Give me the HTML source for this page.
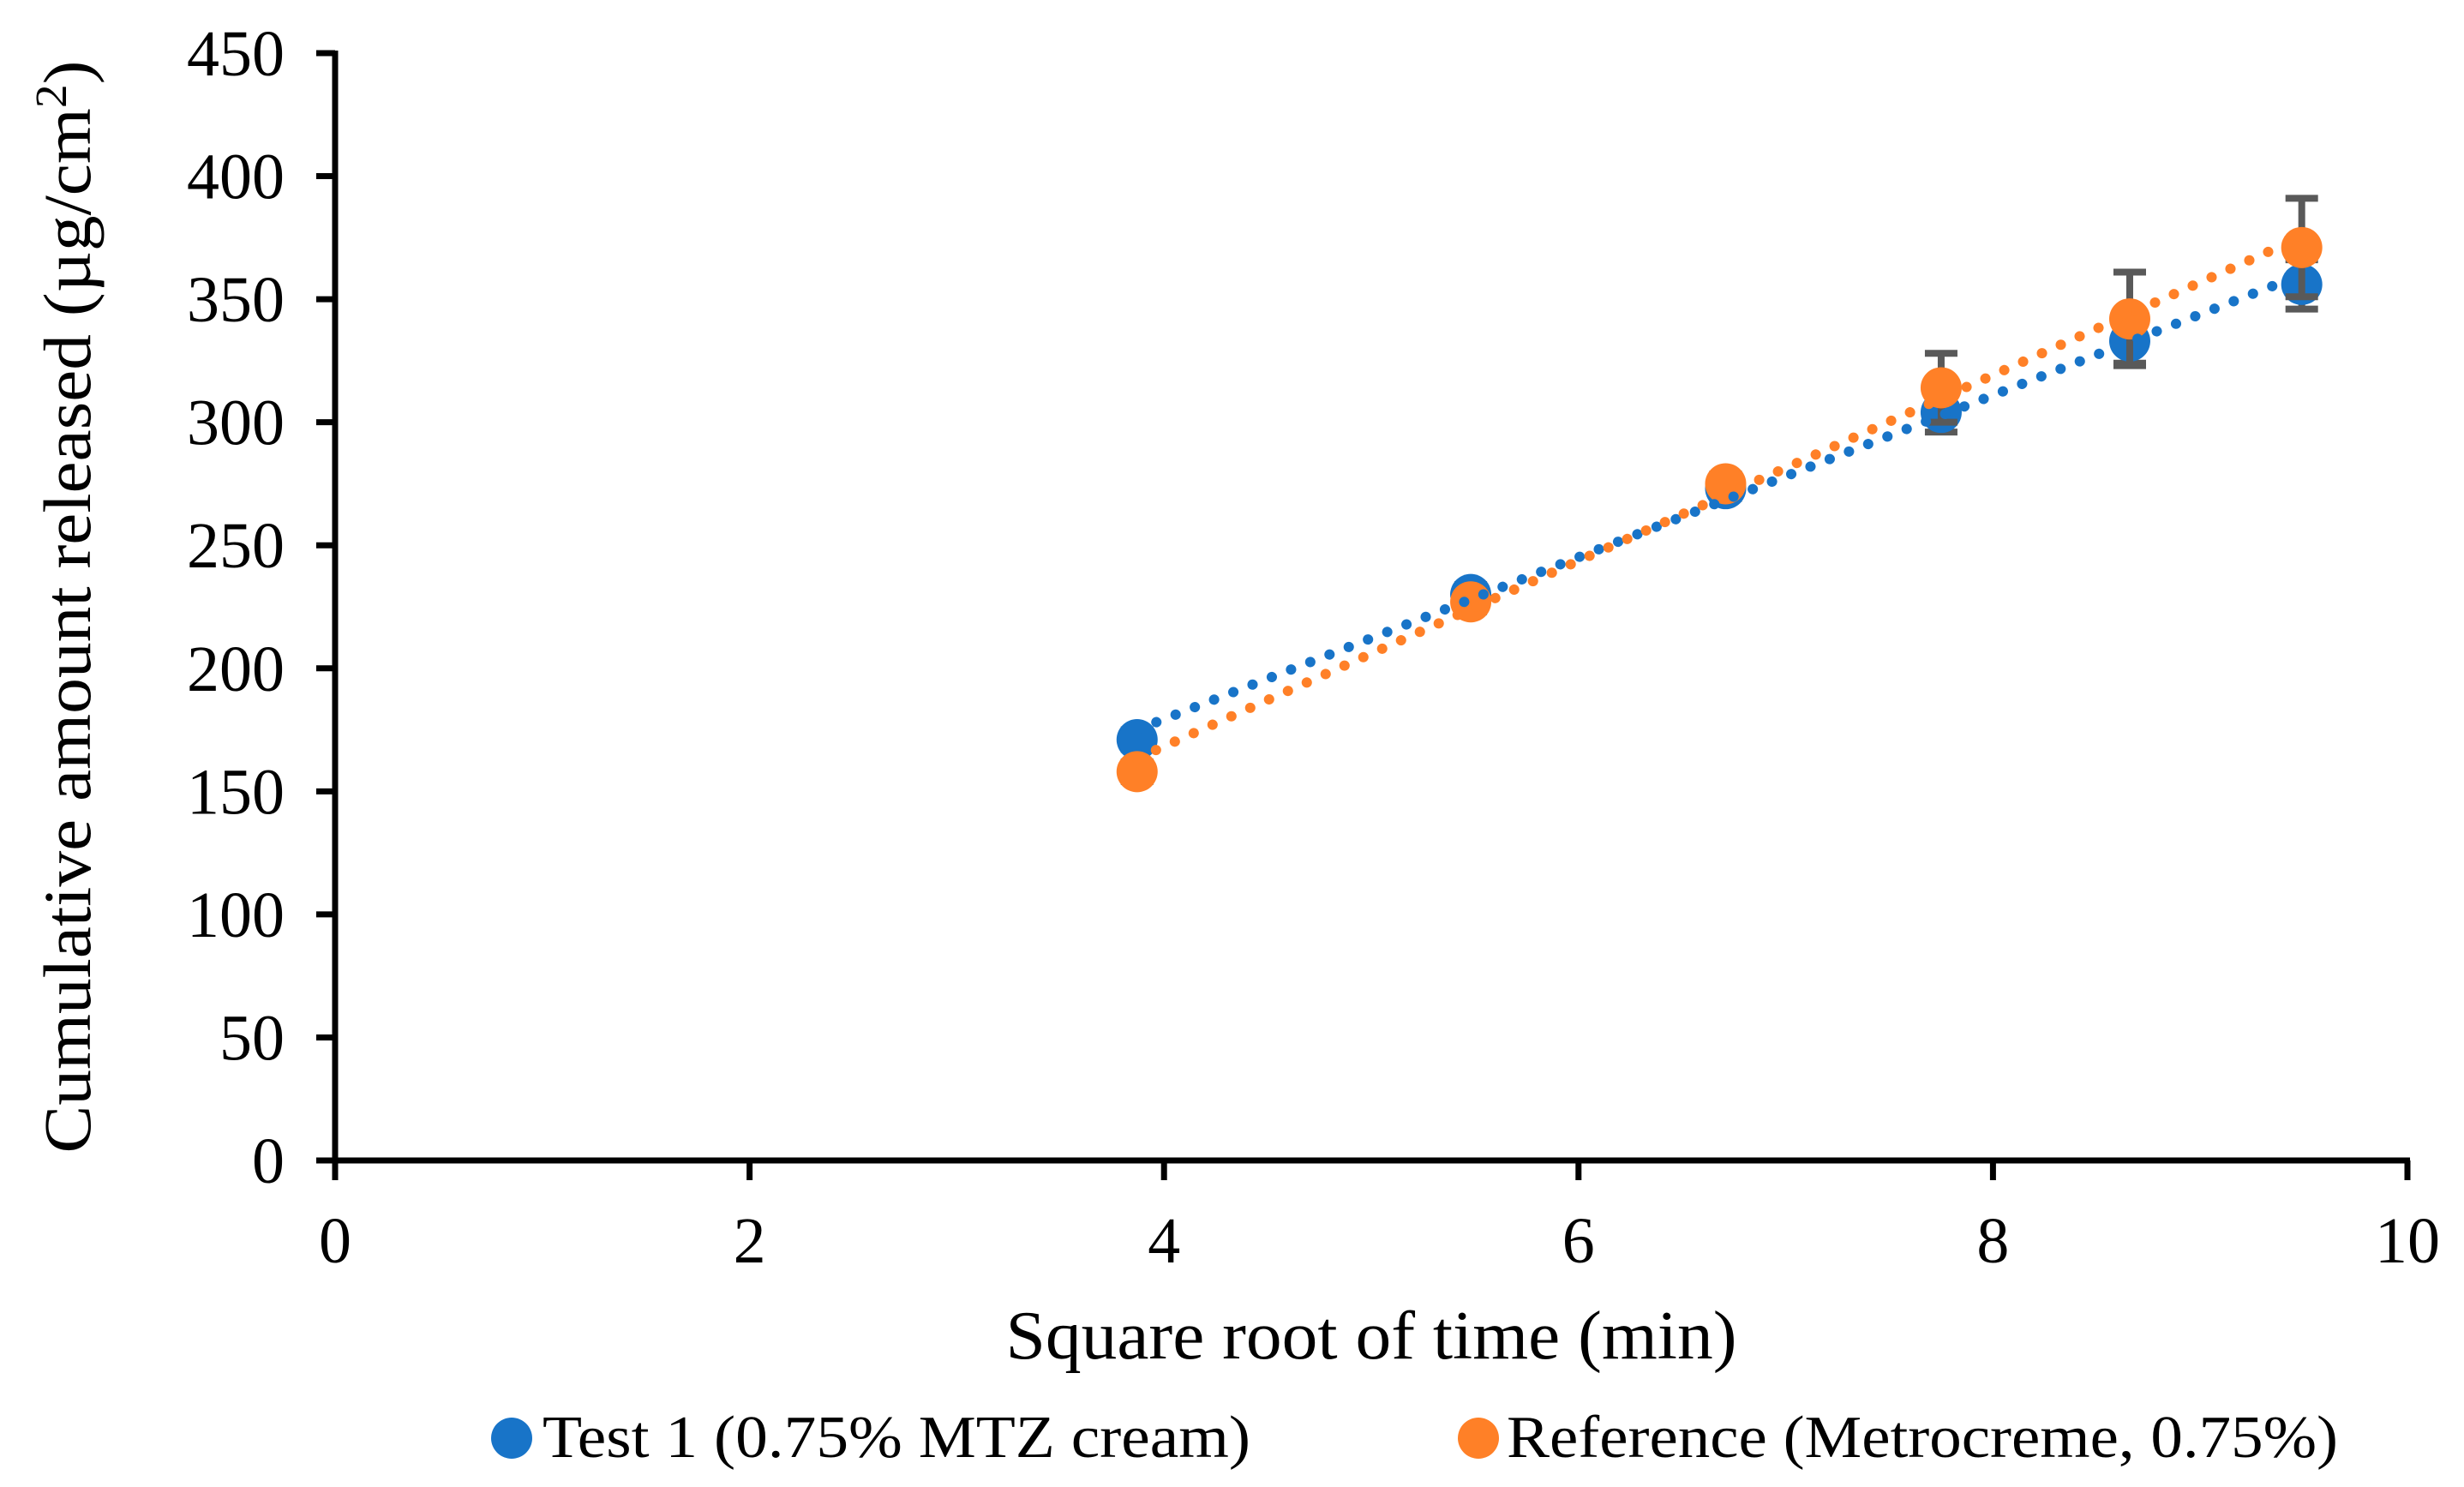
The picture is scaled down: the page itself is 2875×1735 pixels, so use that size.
<!DOCTYPE html>
<html><head><meta charset="utf-8"><style>
html,body{margin:0;padding:0;background:#fff;}
svg{display:block;font-family:"Liberation Serif",serif;}
</style></head><body>
<svg id="chart" width="2875" height="1735" viewBox="0 0 2875 1735" xmlns="http://www.w3.org/2000/svg">
<g id="series"></g>
<g id="trends"></g>
<g id="axes"></g>
<text x="1600" y="1585" font-size="80" text-anchor="middle" textLength="853" lengthAdjust="spacingAndGlyphs">Square root of time (min)</text>
<text transform="translate(105,708) rotate(-90)" font-size="78" text-anchor="middle" textLength="1275" lengthAdjust="spacingAndGlyphs">Cumulative amount released (µg/cm<tspan dy="-28" font-size="52">2</tspan><tspan dy="28">)</tspan></text>
<g>
<g>
<circle cx="597" cy="1678" r="24" fill="#1874c8"/>
<text x="633" y="1700" font-size="70" textLength="826" lengthAdjust="spacingAndGlyphs">Test 1 (0.75% MTZ cream)</text>
</g>
<g>
<circle cx="1725" cy="1678" r="24" fill="#ff8027"/>
<text x="1758" y="1700" font-size="70" textLength="970" lengthAdjust="spacingAndGlyphs">Reference (Metrocreme, 0.75%)</text>
</g>
</g>
</svg>
<script>
const xValues = [3.87, 5.48, 6.71, 7.75, 8.66, 9.49];
const testValues = [171, 230, 273, 304, 333, 356];
const testErrors = [4, 4, 4, 8, 9, 10];
const refValues = [158, 227, 275, 314, 342, 371];
const refErrors = [4, 4, 4, 14, 19, 20];
const xTicks = [0, 2, 4, 6, 8, 10];
const yTicks = [0, 50, 100, 150, 200, 250, 300, 350, 400, 450];

const NS = "http://www.w3.org/2000/svg";
const X0 = 391, X1 = 2809, Y0 = 1354, Y1 = 62;
function xs(v){ return X0 + (v - 0) / 10 * (X1 - X0); }
function ys(v){ return Y0 - v / 450 * (Y0 - Y1); }
function mk(tag, attrs, parent){
  const e = document.createElementNS(NS, tag);
  for (const k in attrs) e.setAttribute(k, attrs[k]);
  parent.appendChild(e);
  return e;
}
const axes = document.getElementById('axes');
const series = document.getElementById('series');
const trends = document.getElementById('trends');

const yAxis = mk('line', {x1: X0, y1: Y1 - 3, x2: X0, y2: Y0 + 3, stroke: '#000', 'stroke-width': 7}, axes);


const xAxis = mk('line', {x1: X0 - 3, y1: Y0, x2: X1 + 3, y2: Y0, stroke: '#000', 'stroke-width': 7}, axes);



yTicks.forEach(t => {
  const y = ys(t);
  const tk = mk('line', {x1: X0 - 22, y1: y, x2: X0, y2: y, stroke: '#000', 'stroke-width': 7}, axes);
  
  
  const lb = mk('text', {x: 332, y: y + 26, 'font-size': 76, 'text-anchor': 'end'}, axes);
  lb.textContent = t;
  
  
});
xTicks.forEach(t => {
  const x = xs(t);
  const tk = mk('line', {x1: x, y1: Y0, x2: x, y2: Y0 + 23, stroke: '#000', 'stroke-width': 7}, axes);
  
  
  const lb = mk('text', {x: x, y: 1473, 'font-size': 76, 'text-anchor': 'middle'}, axes);
  lb.textContent = t;
  
  
});

function fit(xv, yv){
  const n = xv.length;
  const mx = xv.reduce((a,b)=>a+b,0)/n, my = yv.reduce((a,b)=>a+b,0)/n;
  let sxy = 0, sxx = 0;
  for (let i=0;i<n;i++){ sxy += (xv[i]-mx)*(yv[i]-my); sxx += (xv[i]-mx)**2; }
  const m = sxy/sxx; return [m, my - m*mx];
}
function drawSeries(vals, errs, color, name){
  const g = mk('g', {}, series);
  
  
  vals.forEach((v, i) => {
    const x = xs(xValues[i]);
    const eb = mk('path', {d: `M${x},${ys(v+errs[i])}V${ys(v-errs[i])}M${x-19},${ys(v+errs[i])}h38M${x-19},${ys(v-errs[i])}h38`, stroke: '#595959', 'stroke-width': 8, fill: 'none'}, g);
    
    
  });
  const [m, b] = fit(xValues, vals);
  const xa = xValues[0], xb = xValues[xValues.length-1];
  return {g, m, b, xa, xb, color, vals, name};
}
function drawTrend(s){
  const tl = mk('line', {x1: xs(s.xa), y1: ys(s.m*s.xa+s.b), x2: xs(s.xb), y2: ys(s.m*s.xb+s.b), stroke: s.color, 'stroke-width': 12, 'stroke-linecap': 'round', 'stroke-dasharray': '0.1 24'}, trends);
  
  
}
function drawPoints(s){
  s.vals.forEach((v, i) => {
    const c = mk('circle', {cx: xs(xValues[i]), cy: ys(v), r: 24, fill: s.color}, s.g);
    
    
  });
}
const sT = drawSeries(testValues, testErrors, '#1874c8', 'test');
const sR = drawSeries(refValues, refErrors, '#ff8027', 'reference');
drawPoints(sT);
drawPoints(sR);
drawTrend(sT);
drawTrend(sR);
</script>
</body></html>
